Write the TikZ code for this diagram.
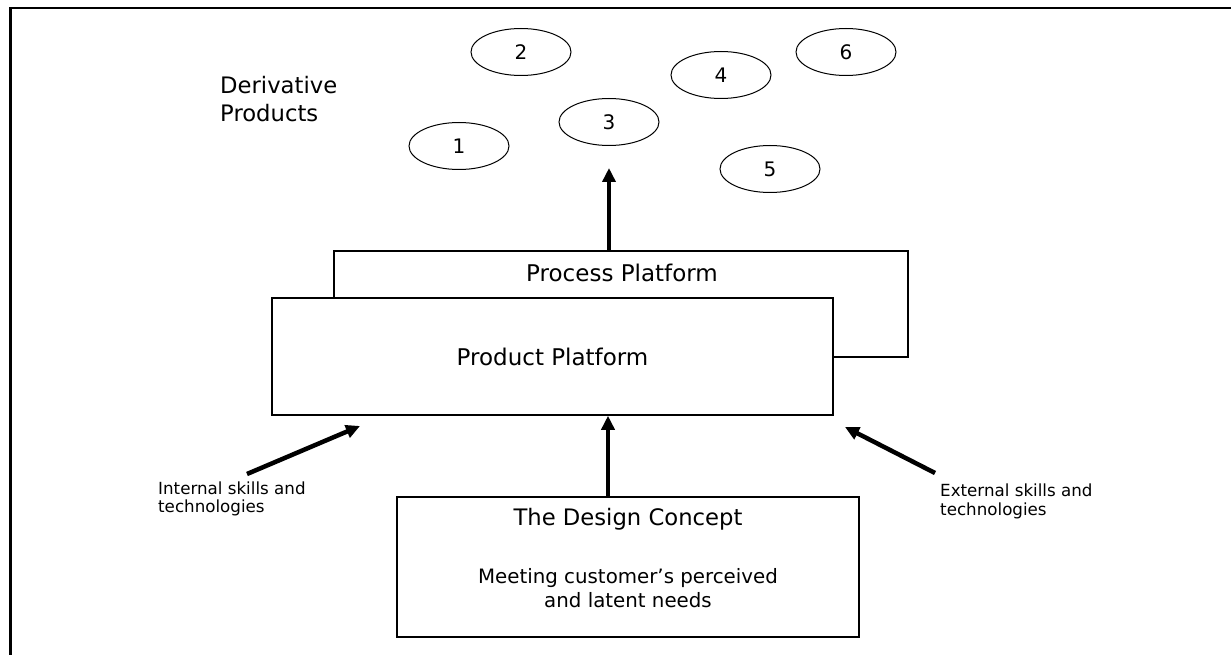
\documentclass[tikz,border=0pt]{standalone}
\usepackage{fontspec}
\setmainfont{DejaVu Sans}
\usetikzlibrary{arrows.meta,shapes.geometric}
\begin{document}
\begin{tikzpicture}[x=1pt,y=-1pt,
  elly/.style={draw,line width=1pt,ellipse,minimum width=100pt,minimum height=47pt,inner sep=0pt,font=\fontsize{20}{24}\selectfont},
  platbox/.style={draw,line width=1.5pt,rectangle,inner sep=0pt,fill=white},
  bigarrow/.style={line width=4.5pt,-{Triangle[length=14pt,width=13pt]}},
  smalllbl/.style={anchor=base west,align=left,inner sep=0pt,font=\fontsize{16.7}{18.5}\selectfont}]
\useasboundingbox (0,0) rectangle (1231,655);
\fill[white] (0,0) rectangle (1231,655);
% frame
\coordinate (frameTL) at (10.3,7.8);
\coordinate (frameTR) at (1231,7.8);
\coordinate (frameBL) at (10.3,655);
\draw[line width=2.4pt] ([xshift=-1.3pt]frameTL) -- (frameTR);
\draw[line width=2.6pt] (frameTL) -- (frameBL);
% derivative products (anchor = baseline of last line)
\node[anchor=base west,align=left,inner sep=0pt,font=\fontsize{22.7}{28}\selectfont] (deriv) at (220,122) {Derivative\\Products};
% ellipses
\node[elly] (e1) at (459,146) {1};
\node[elly] (e2) at (521,52) {2};
\node[elly] (e3) at (609,122) {3};
\node[elly] (e4) at (721,75) {4};
\node[elly] (e5) at (770,169) {5};
\node[elly] (e6) at (846,52) {6};
% platforms
\node[platbox,minimum width=574pt,minimum height=106pt] (proc) at (621,304) {};
\node[inner sep=0pt,font=\fontsize{23}{27}\selectfont] (proclbl) at (622,273) {Process Platform};
\node[platbox,minimum width=561pt,minimum height=117pt,font=\fontsize{23}{27}\selectfont] (prod) at (552.5,356.5) {Product Platform};
% design concept
\node[platbox,line width=2pt,minimum width=462pt,minimum height=140pt] (design) at (628,567) {};
\node[anchor=base,inner sep=0pt,font=\fontsize{22.7}{27}\selectfont] (dtitle) at (628,525.7) {The Design Concept};
\node[anchor=base,align=center,inner sep=0pt,font=\fontsize{19.8}{24}\selectfont] (dsub) at (628,607) {Meeting customer’s perceived\\and latent needs};
% side labels
\node[smalllbl] (intl) at (158,512.7) {Internal skills and\\technologies};
\node[smalllbl] (extl) at (940,515) {External skills and\\technologies};
% arrows
\coordinate (derivtip) at (609,168);
\coordinate (axis) at (608,0);
\coordinate (intTail) at (247,474);
\coordinate (intTip) at (360,426);
\coordinate (extTail) at (935,473);
\coordinate (extTip) at (845,427);
\draw[bigarrow] (proc.north -| derivtip) -- (derivtip);
\draw[bigarrow] (design.north -| axis) -- (prod.south -| axis);
\draw[bigarrow] (intTail) -- (intTip);
\draw[bigarrow] (extTail) -- (extTip);
\end{tikzpicture}
\end{document}
